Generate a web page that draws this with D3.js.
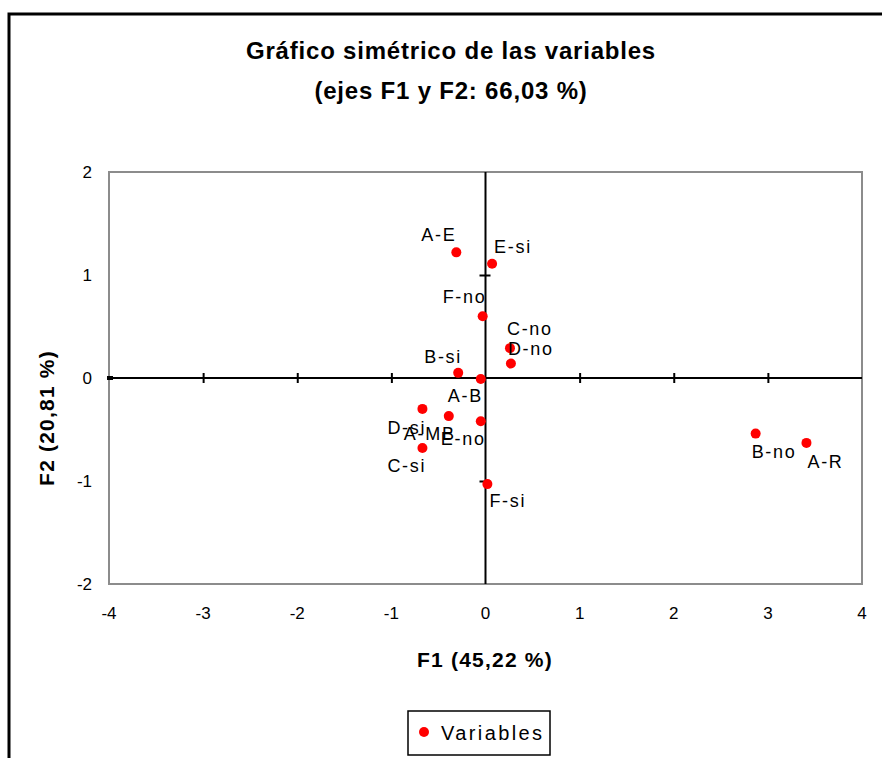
<!DOCTYPE html>
<html>
<head>
<meta charset="utf-8">
<script src="https://cdn.jsdelivr.net/npm/d3@7"></script>
<style>
  body { margin: 0; background: #fff; }
  svg { display: block; font-family: "Liberation Sans", Arial, sans-serif; }
</style>
</head>
<body>
<div id="chart"></div>
<script>
// categorias y coordenadas (F1, F2)
const labels = ["A-E", "E-si", "F-no", "C-no", "D-no", "B-si", "A-B", "D-si", "A-MB", "E-no", "C-si", "F-si", "B-no", "A-R"];
const f1 = [-0.31, 0.07, -0.03, 0.26, 0.27, -0.29, -0.05, -0.67, -0.39, -0.05, -0.67, 0.02, 2.87, 3.41];
const f2 = [1.22, 1.11, 0.60, 0.29, 0.14, 0.05, -0.01, -0.30, -0.37, -0.42, -0.68, -1.03, -0.54, -0.63];
const xTicks = [-4, -3, -2, -1, 0, 1, 2, 3, 4];
const yTicks = [-2, -1, 0, 1, 2];
const titleLines = ["Gráfico simétrico de las variables", "(ejes F1 y F2: 66,03 %)"];

// donde va cada etiqueta respecto al punto
const labelOffset = [[-35, -11], [2, -11], [-40, -13], [-3, -13], [-3, -9], [-34, -10], [-33, 23],
    [-35, 25], [-45, 24], [-40, 24], [-35, 24], [2, 23], [-4, 24], [1, 25]];

const width = 882, height = 758;
const svg = d3.select("#chart").append("svg")
    .attr("width", width).attr("height", height);

svg.append("rect").attr("width", width).attr("height", height).attr("fill", "#fff");

// marco exterior
svg.append("path")
    .attr("d", "M9,770V14H900")
    .attr("fill", "none").attr("stroke", "#000").attr("stroke-width", 3);

const x = d3.scaleLinear().domain([-4, 4]).range([109, 862]);
const y = d3.scaleLinear().domain([-2, 2]).range([584, 172]);

// area del grafico
svg.append("rect")
    .attr("x", x(-4)).attr("y", y(2))
    .attr("width", x(4) - x(-4)).attr("height", y(-2) - y(2))
    .attr("fill", "none").attr("stroke", "#8c8c8c").attr("stroke-width", 2);

// ejes por el origen
const xAxis = svg.append("g")
    .attr("transform", `translate(0,${y(0)})`)
    .call(d3.axisBottom(x).tickValues(xTicks).tickSize(6).tickFormat(""));
xAxis.select(".domain").attr("d", `M${x(-4)},0H${x(4)}`).attr("stroke-width", 2);
xAxis.selectAll(".tick line").attr("y1", -5).attr("y2", 5).attr("stroke-width", 2)
    .filter(d => d === 0 || d === -4 || d === 4).remove();

const yAxis = svg.append("g")
    .attr("transform", `translate(${x(0)},0)`)
    .call(d3.axisLeft(y).tickValues(yTicks).tickSize(6).tickFormat(""));
yAxis.select(".domain").attr("d", `M0,${y(2)}V${y(-2)}`).attr("stroke-width", 2);
yAxis.selectAll(".tick line").attr("x1", -6).attr("x2", 5).attr("stroke-width", 2)
    .filter(d => d === 0 || d === 2 || d === -2).remove();

// marca en el borde izquierdo sobre y=0
svg.append("line")
    .attr("x1", x(-4) - 2).attr("x2", x(-4) + 4)
    .attr("y1", y(0)).attr("y2", y(0))
    .attr("stroke", "#000").attr("stroke-width", 4);

// etiquetas de ticks
svg.append("g").selectAll("text").data(xTicks).join("text")
    .attr("x", d => x(d)).attr("y", 619)
    .attr("text-anchor", "middle")
    .attr("font-size", 17)
    .text(d => d);

svg.append("g").selectAll("text").data(yTicks).join("text")
    .attr("x", 92).attr("y", d => y(d) + 6)
    .attr("text-anchor", "end")
    .attr("font-size", 17)
    .text(d => d);

// puntos
svg.append("g").selectAll("circle").data(labels).join("circle")
    .attr("cx", (d, i) => x(f1[i]))
    .attr("cy", (d, i) => y(f2[i]))
    .attr("r", 5)
    .attr("fill", "#ff0000");

svg.append("g").selectAll("text").data(labels).join("text")
    .attr("x", (d, i) => x(f1[i]) + labelOffset[i][0])
    .attr("y", (d, i) => y(f2[i]) + labelOffset[i][1])
    .attr("font-size", 18)
    .attr("letter-spacing", 1.7)
    .text(d => d);

// titulos
svg.append("g").selectAll("text").data(titleLines).join("text")
    .attr("x", 451).attr("y", (d, i) => 59 + i * 40)
    .attr("text-anchor", "middle")
    .attr("font-size", 24).attr("font-weight", "bold")
    .attr("letter-spacing", 0.8)
    .text(d => d);

svg.append("text")
    .attr("x", 485).attr("y", 667)
    .attr("text-anchor", "middle")
    .attr("font-size", 21).attr("font-weight", "bold")
    .attr("letter-spacing", 1.2)
    .text("F1 (45,22 %)");

svg.append("text")
    .attr("transform", `translate(54,${418}) rotate(-90)`)
    .attr("text-anchor", "middle")
    .attr("font-size", 21).attr("font-weight", "bold")
    .attr("letter-spacing", 1.2)
    .text("F2 (20,81 %)");

// leyenda
const legend = svg.append("g");
legend.append("rect")
    .attr("x", 408).attr("y", 711).attr("width", 142).attr("height", 44)
    .attr("fill", "#fff").attr("stroke", "#000").attr("stroke-width", 1.5);
legend.append("circle").attr("cx", 424).attr("cy", 732).attr("r", 5).attr("fill", "#ff0000");
legend.append("text")
    .attr("x", 441).attr("y", 740)
    .attr("font-size", 20).attr("letter-spacing", 2.4)
    .text("Variables");
</script>
</body>
</html>
